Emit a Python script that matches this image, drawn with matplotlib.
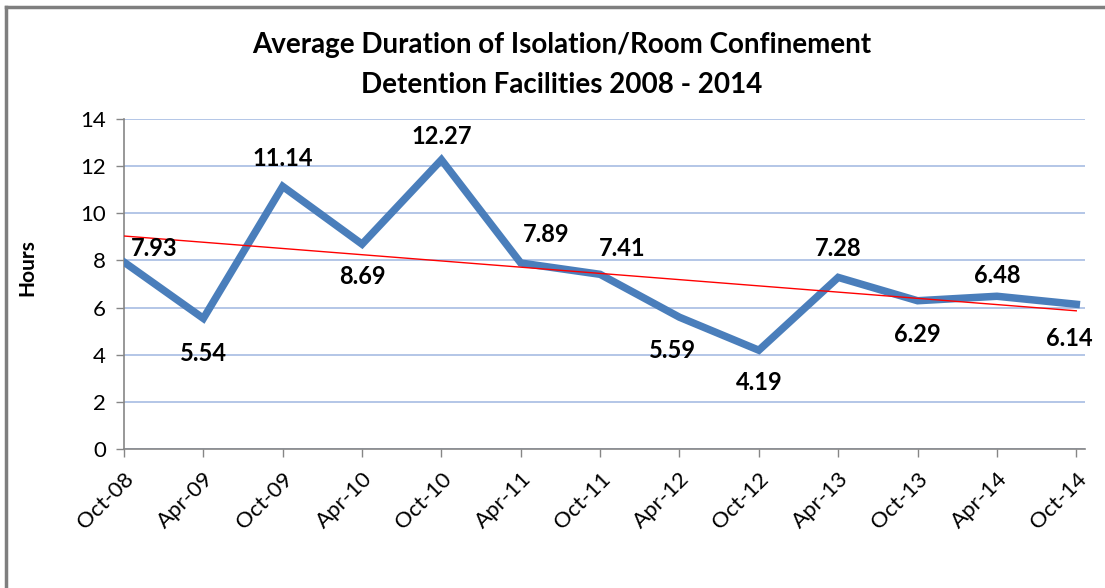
import numpy as np
import matplotlib
matplotlib.use("Agg")
from matplotlib import pyplot as plt
from matplotlib.lines import Line2D

# data
months = ["Oct-08", "Apr-09", "Oct-09", "Apr-10", "Oct-10", "Apr-11", "Oct-11",
          "Apr-12", "Oct-12", "Apr-13", "Oct-13", "Apr-14", "Oct-14"]
hours = [7.93, 5.54, 11.14, 8.69, 12.27, 7.89, 7.41, 5.59, 4.19, 7.28, 6.29, 6.48, 6.14]
# label offsets (pixels) relative to each point
label_dx = [30, 0, 0, 0, 0, 25, 22, -7, 0, 0, 0, 0, -7]
label_dy = [14, -35, 28, -32, 23, 29, 26, -33, -32, 29, -34, 21, -34]

plt.rcParams['font.family'] = ['Lato', 'DejaVu Sans']

fig = plt.figure(figsize=(11.05, 5.88), dpi=100)
ax = fig.add_axes([124 / 1105, 1 - 449 / 588, (1085 - 124) / 1105, (449 - 119) / 588])

x = np.arange(len(months))
ax.plot(x, hours, color='#4A7EBB', linewidth=5.4, solid_joinstyle='miter', zorder=3)

# linear trend line
k, b = np.polyfit(x, hours, 1)
ax.plot(x, k * x + b, color='#FF0000', linewidth=1.0, zorder=4)

for xi, yi, dx, dy in zip(x, hours, label_dx, label_dy):
    ax.annotate(f"{yi:.2f}", (xi, yi), xytext=(dx, dy), textcoords='offset pixels',
                ha='center', va='center', fontsize=17, fontweight='bold', zorder=5)

ax.set_xlim(0, 12.11)
ax.set_ylim(0, 14)
ax.set_yticks(range(0, 15, 2))
ax.set_xticks(x)
ax.set_xticklabels(months, rotation=45, ha='right', va='top', rotation_mode='anchor')
ax.tick_params(axis='both', labelsize=16, color='#868686', length=6, width=1)
ax.tick_params(axis='x', pad=8)
ax.tick_params(axis='y', pad=7)

ax.grid(axis='y', color='#B3C6E7', linewidth=1.4)
ax.set_axisbelow(True)
for side in ['top', 'right']:
    ax.spines[side].set_visible(False)
for side in ['left', 'bottom']:
    ax.spines[side].set_color('#868686')
    ax.spines[side].set_linewidth(1.2)

ax.set_ylabel('Hours', fontsize=15, fontweight='bold')
ax.yaxis.set_label_coords(-0.09, 0.55)

fig.text(0.508, 1 - 45 / 588, 'Average Duration of Isolation/Room Confinement',
         ha='center', va='center', fontsize=20, fontweight='bold')
fig.text(0.508, 1 - 85 / 588, 'Detention Facilities 2008 - 2014',
         ha='center', va='center', fontsize=20, fontweight='bold')

# chart border
fig.add_artist(Line2D([6 / 1105, 6 / 1105], [0, 1 - 7 / 588], color='#7F7F7F', linewidth=2.5))
fig.add_artist(Line2D([6 / 1105, 1], [1 - 7 / 588, 1 - 7 / 588], color='#7F7F7F', linewidth=2.5))

fig.savefig("out.png", dpi=100)
